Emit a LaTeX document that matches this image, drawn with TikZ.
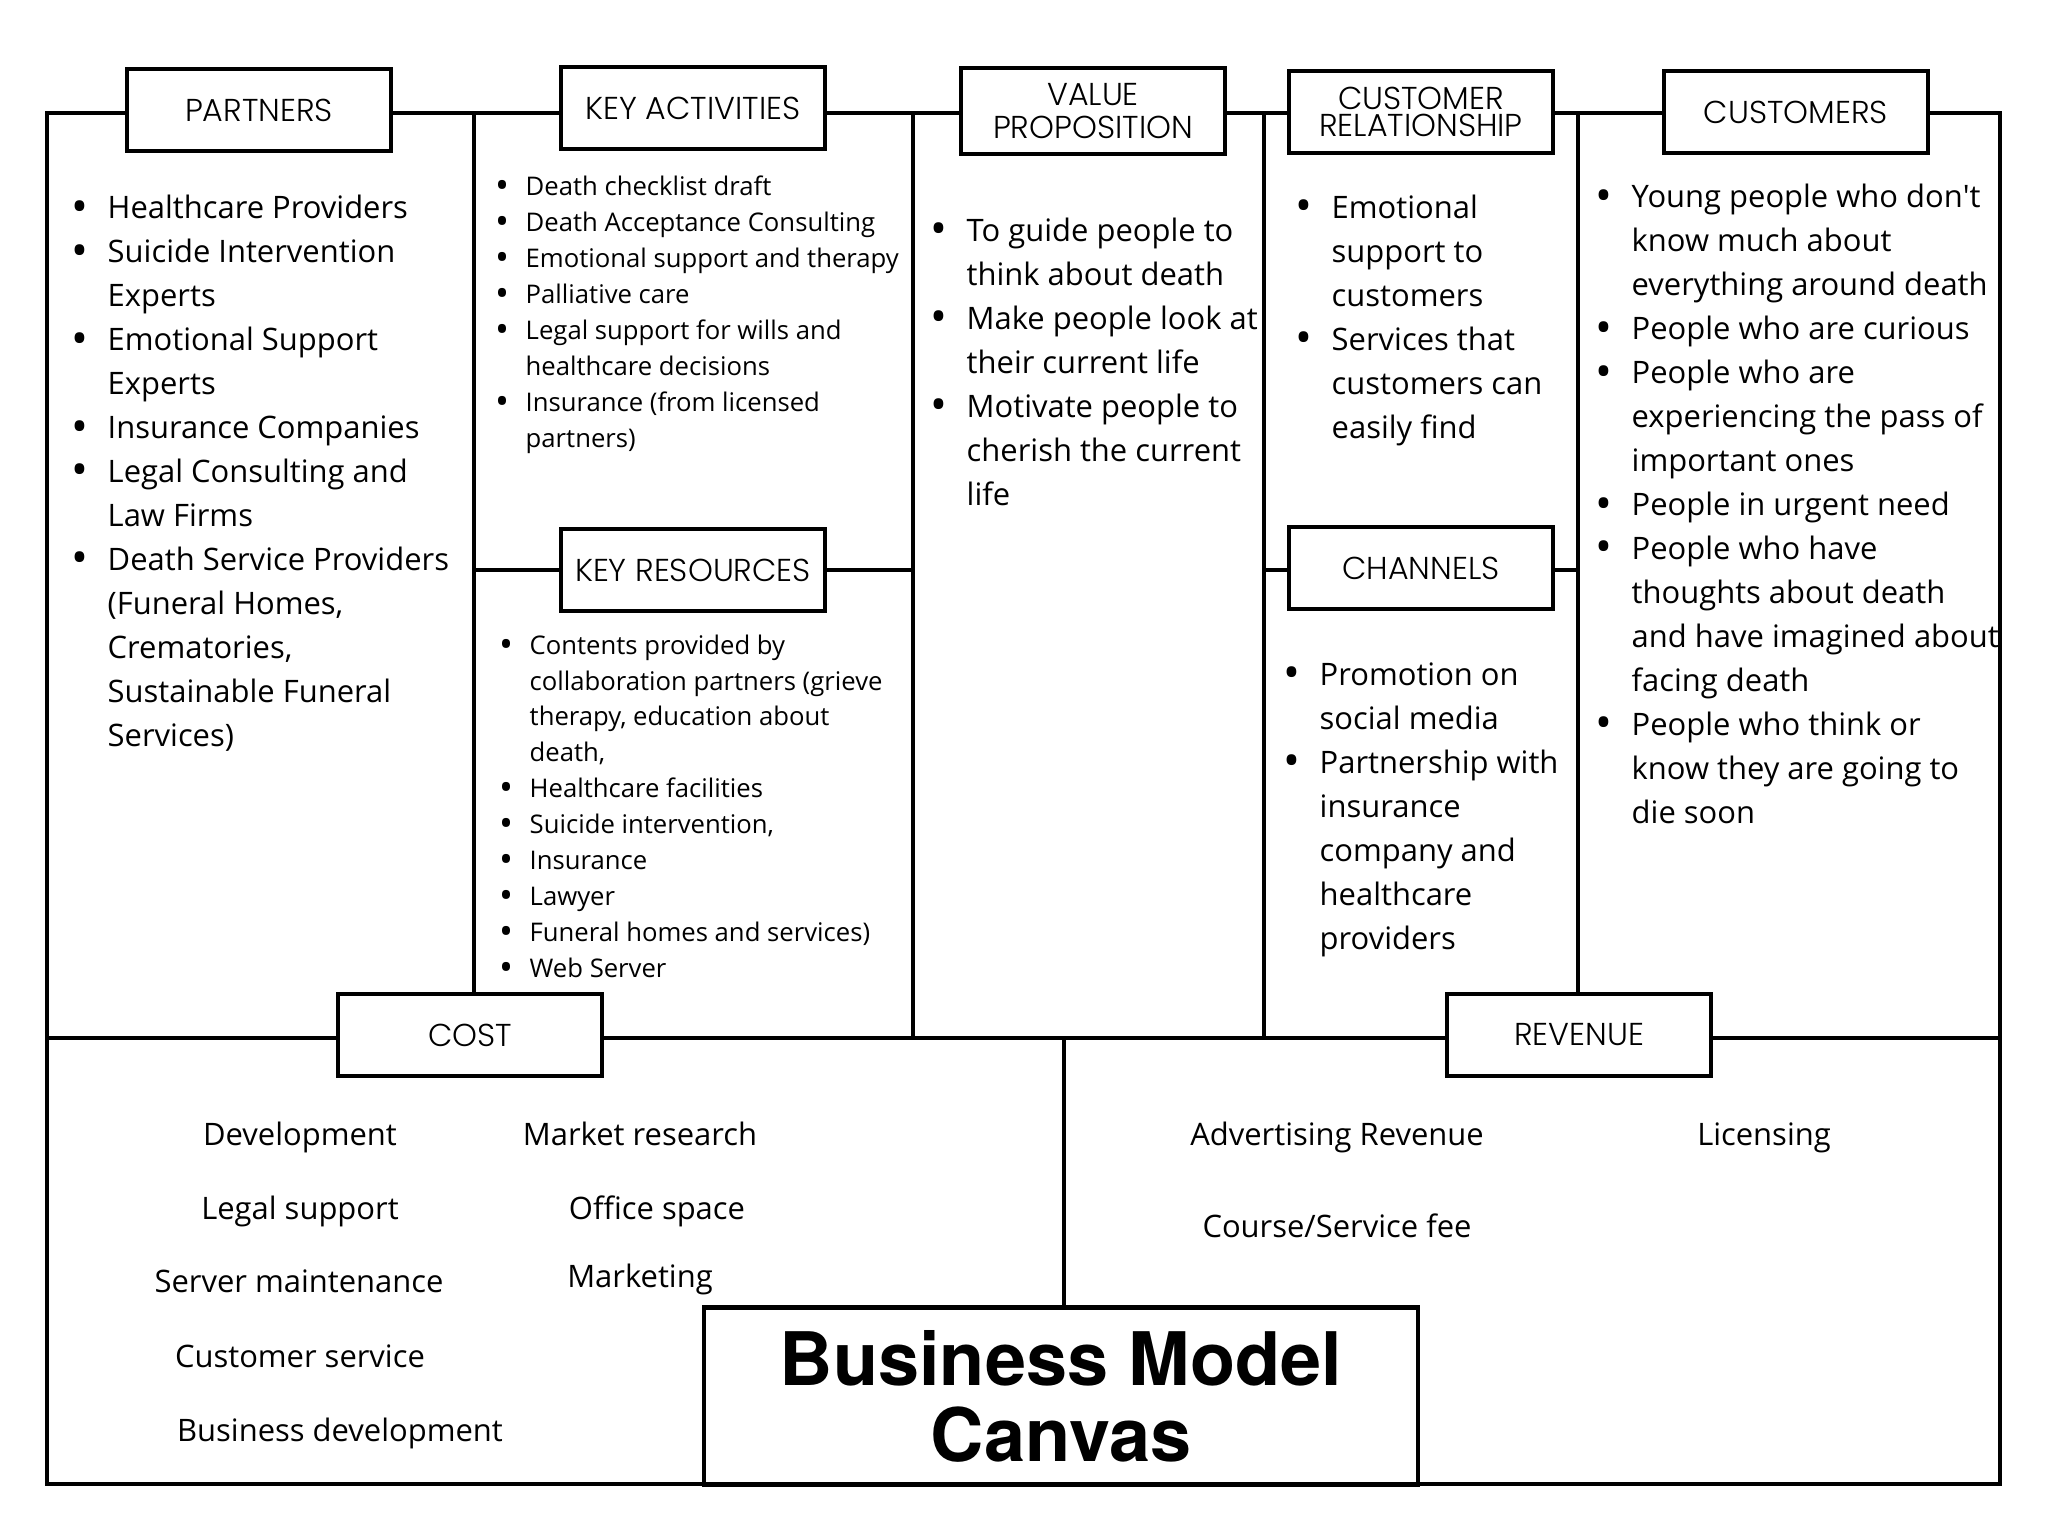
\documentclass[tikz,border=0pt]{standalone}
\usepackage{fontspec}
\setmainfont{Open Sans}
\newfontfamily\headfont{Poppins Light}
\newfontfamily\titlefont{TeX Gyre Heros}
\usetikzlibrary{positioning}

\newcommand{\bl}{\llap{\raisebox{-0.12em}{\scalebox{1.45}{\textbullet}}\hspace{0.62em}}}

\begin{document}
\begin{tikzpicture}[x=0.01cm, y=-0.01cm,
  frame/.style={line width=0.9pt},
  headbox/.style={draw, line width=1.2pt, fill=white, minimum width=2.64cm,
    minimum height=0.82cm, inner sep=0pt, align=center,
    font=\headfont\fontsize{9}{8.2}\selectfont},
  biglist/.style={anchor=base west, inner sep=0pt, align=left,
    font=\fontsize{8.8}{12.5}\selectfont},
  smalllist/.style={anchor=base west, inner sep=0pt, align=left,
    font=\fontsize{7.3}{10.2}\selectfont},
  costitem/.style={anchor=base, inner sep=0pt, font=\fontsize{8.8}{12.5}\selectfont}]

  \useasboundingbox (0,0) rectangle (2048,1536);

  % outer frame and dividers
  \coordinate (tl) at (47,113);
  \coordinate (br) at (2000,1484);
  \draw[frame] (tl) rectangle (br);
  \draw[frame] (47,1038) -- (2000,1038);
  \draw[frame] (474,113) -- (474,1038);
  \draw[frame] (913,113) -- (913,1038);
  \draw[frame] (1264,113) -- (1264,1038);
  \draw[frame] (1578,113) -- (1578,1038);
  \draw[frame] (1064,1038) -- (1064,1310);
  \draw[frame] (474,570) -- (913,570);
  \draw[frame] (1264,570) -- (1578,570);

  % headings
  \node[headbox] (partners) at (259,110) {PARTNERS};
  \node[headbox] (activities) at (693,108) {KEY ACTIVITIES};
  \node[headbox, minimum height=0.86cm, font=\headfont\fontsize{9}{9.6}\selectfont]
    (value) at (1093,111) {VALUE\\PROPOSITION};
  \node[headbox, font=\headfont\fontsize{9}{7.8}\selectfont]
    (relation) at (1421,112) {CUSTOMER\\RELATIONSHIP};
  \node[headbox] (customers) at (1796,112) {CUSTOMERS};
  \node[headbox] (resources) at (693,570) {KEY RESOURCES};
  \node[headbox] (channels) at (1421,568) {CHANNELS};
  \node[headbox] (cost) at (470,1035) {COST};
  \node[headbox] (revenue) at (1579,1035) {REVENUE};

  % title
  \node[draw, line width=1.2pt, fill=white, minimum width=7.13cm, minimum height=1.77cm,
    align=center, font=\titlefont\bfseries\fontsize{21}{21.6}\selectfont] (title)
    at (1061,1396) {Business Model\\Canvas};

  % block contents (placed by the baseline of their last line)
  \node[biglist] (partnerlist) at (107,746) {%
    \bl Healthcare Providers\\
    \bl Suicide Intervention\\ Experts\\
    \bl Emotional Support\\ Experts\\
    \bl Insurance Companies\\
    \bl Legal Consulting and\\ Law Firms\\
    \bl Death Service Providers\\ (Funeral Homes,\\ Crematories,\\
    Sustainable Funeral\\ Services)};

  \node[smalllist] (activitylist) at (525,447) {%
    \bl Death checklist draft\\
    \bl Death Acceptance Consulting\\
    \bl Emotional support and therapy\\
    \bl Palliative care\\
    \bl Legal support for wills and\\ healthcare decisions\\
    \bl Insurance (from licensed\\ partners)};

  \node[smalllist] (resourcelist) at (529,977) {%
    \bl Contents provided by\\ collaboration partners (grieve\\
    therapy, education about\\ death,\\
    \bl Healthcare facilities\\
    \bl Suicide intervention,\\
    \bl Insurance\\
    \bl Lawyer\\
    \bl Funeral homes and services)\\
    \bl Web Server};

  \node[biglist] (valuelist) at (966,505) {%
    \bl To guide people to\\ think about death\\
    \bl Make people look at\\ their current life\\
    \bl Motivate people to\\ cherish the current\\ life};

  \node[biglist] (relationlist) at (1331,438) {%
    \bl Emotional\\ support to\\ customers\\
    \bl Services that\\ customers can\\ easily find};

  \node[biglist] (channellist) at (1319,949) {%
    \bl Promotion on\\ social media\\
    \bl Partnership with\\ insurance\\ company and\\ healthcare\\ providers};

  \node[biglist] (customerlist) at (1631,823) {%
    \bl Young people who don\textquotesingle t\\ know much about\\ everything around death\\
    \bl People who are curious\\
    \bl People who are\\ experiencing the pass of\\ important ones\\
    \bl People in urgent need\\
    \bl People who have\\ thoughts about death\\ and have imagined about\\ facing death\\
    \bl People who think or\\ know they are going to\\ die soon};

  % cost items
  \node[costitem] (dev) at (300,1145) {Development};
  \node[costitem] (legal) at (300,1219) {Legal support};
  \node[costitem] (server) at (299,1292) {Server maintenance};
  \node[costitem] (service) at (300,1367) {Customer service};
  \node[costitem] (bizdev) at (340,1441) {Business development};
  \node[costitem] (market) at (640,1145) {Market research};
  \node[costitem] (office) at (657,1219) {Office space};
  \node[costitem] (marketing) at (640,1287) {Marketing};

  % revenue items
  \node[costitem] (ads) at (1337,1145) {Advertising Revenue};
  \node[costitem] (licence) at (1764,1145) {Licensing};
  \node[costitem] (fee) at (1337,1237) {Course/Service fee};

\end{tikzpicture}
\end{document}
